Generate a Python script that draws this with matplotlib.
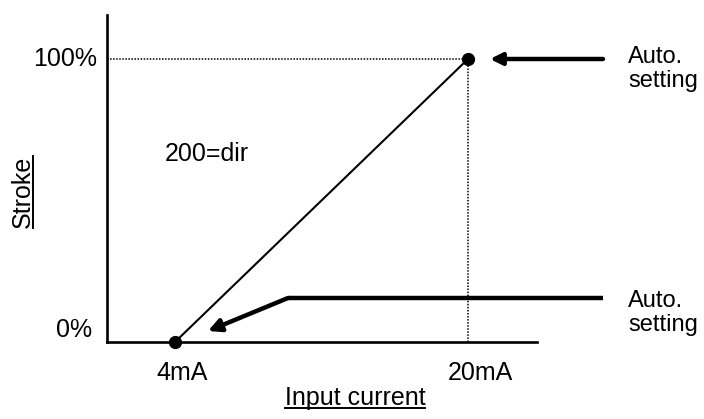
import matplotlib
matplotlib.use("Agg")
import matplotlib.pyplot as plt
from matplotlib.lines import Line2D

plt.rcParams['font.family'] = ['Liberation Sans', 'DejaVu Sans']

# data
x_current = [4, 20]          # mA
y_stroke = [0, 100]          # %
x_tick_labels = ["4mA", "20mA"]
y_tick_labels = ["0%", "100%"]
x_label = "Input current"
y_label = "Stroke"
mode_text = "200=dir"
note_text = "Auto.\nsetting"

W, H = 704, 419
fig = plt.figure(figsize=(W / 100, H / 100), dpi=100)

# pixel mapping helpers (layout only)
PX_PER_MA = (468 - 175) / 16.0
PX_PER_PCT = (342 - 59) / 100.0
def X(px):
    return x_current[0] + (px - 175) / PX_PER_MA
def Y(py):
    return y_stroke[0] + (342 - py) / PX_PER_PCT

left_px, right_px, top_px, bot_px = 107, 537, 15, 342
ax = fig.add_axes([left_px / W, (H - bot_px) / H, (right_px - left_px) / W, (bot_px - top_px) / H])
ax.set_xlim(X(left_px), X(right_px))
ax.set_ylim(Y(bot_px), Y(top_px))
for s in ['top', 'right']:
    ax.spines[s].set_visible(False)
for s in ['left', 'bottom']:
    ax.spines[s].set_linewidth(1.9)
ax.set_xticks([])
ax.set_yticks([])
ax.patch.set_visible(False)

# dotted guides
ax.plot([X(left_px), x_current[1]], [y_stroke[1], y_stroke[1]], ls=(0, (1, 1)), lw=1.1, color='black', clip_on=False)
ax.plot([x_current[1], x_current[1]], [y_stroke[0], y_stroke[1]], ls=(0, (1, 1)), lw=1.1, color='black', clip_on=False)

# main line and points
ax.plot(x_current, y_stroke, color='black', lw=1.5, clip_on=False, zorder=3)
ax.plot(x_current, y_stroke, 'o', color='black', ms=8.5, clip_on=False, zorder=4)

# tick labels
fs = 18
ax.text(X(97), y_stroke[1], y_tick_labels[1], ha='right', va='center', fontsize=fs)
ax.text(X(92), Y(330), y_tick_labels[0], ha='right', va='center', fontsize=fs)
ax.text(X(182), Y(373), x_tick_labels[0], ha='center', va='center', fontsize=fs)
ax.text(X(480), Y(373), x_tick_labels[1], ha='center', va='center', fontsize=fs)

# mode text
ax.text(X(165), Y(154), mode_text, ha='left', va='center', fontsize=fs)

# top arrow
ax.annotate('', xy=(X(490), y_stroke[1]), xytext=(X(603), y_stroke[1]),
            arrowprops=dict(arrowstyle='-|>,head_length=0.7,head_width=0.35', lw=3.2, color='black',
                            shrinkA=0, shrinkB=0),
            annotation_clip=False)
ax.text(X(628), Y(46), note_text, ha='left', va='top', fontsize=17, linespacing=1.1)

# bottom bent arrow
ax.plot([X(603), X(288)], [Y(298), Y(298)], color='black', lw=3.2, clip_on=False, solid_capstyle='butt')
ax.annotate('', xy=(X(208), Y(331)), xytext=(X(288), Y(298)),
            arrowprops=dict(arrowstyle='-|>,head_length=0.75,head_width=0.38', lw=3.2, color='black',
                            shrinkA=0, shrinkB=0),
            annotation_clip=False)
ax.text(X(628), Y(290), note_text, ha='left', va='top', fontsize=17, linespacing=1.1)

# axis labels with underline
xl = ax.text(X(355), Y(398), x_label, ha='center', va='center', fontsize=fs)
yl = ax.text(X(23), Y(192), y_label, ha='center', va='center', rotation=90, fontsize=fs)

fig.canvas.draw()
r = fig.canvas.get_renderer()
inv = fig.transFigure.inverted()
bb = xl.get_window_extent(r)
(x0, y0), (x1, y1) = inv.transform([(bb.x0, bb.y0), (bb.x1, bb.y1)])
fig.add_artist(Line2D([x0, x1], [y0 + 0.004, y0 + 0.004], transform=fig.transFigure, color='black', lw=1.4))
bb = yl.get_window_extent(r)
(x0, y0), (x1, y1) = inv.transform([(bb.x0, bb.y0), (bb.x1, bb.y1)])
fig.add_artist(Line2D([x1 - 0.003, x1 - 0.003], [y0, y1], transform=fig.transFigure, color='black', lw=1.4))

fig.savefig("out.png", dpi=100)
